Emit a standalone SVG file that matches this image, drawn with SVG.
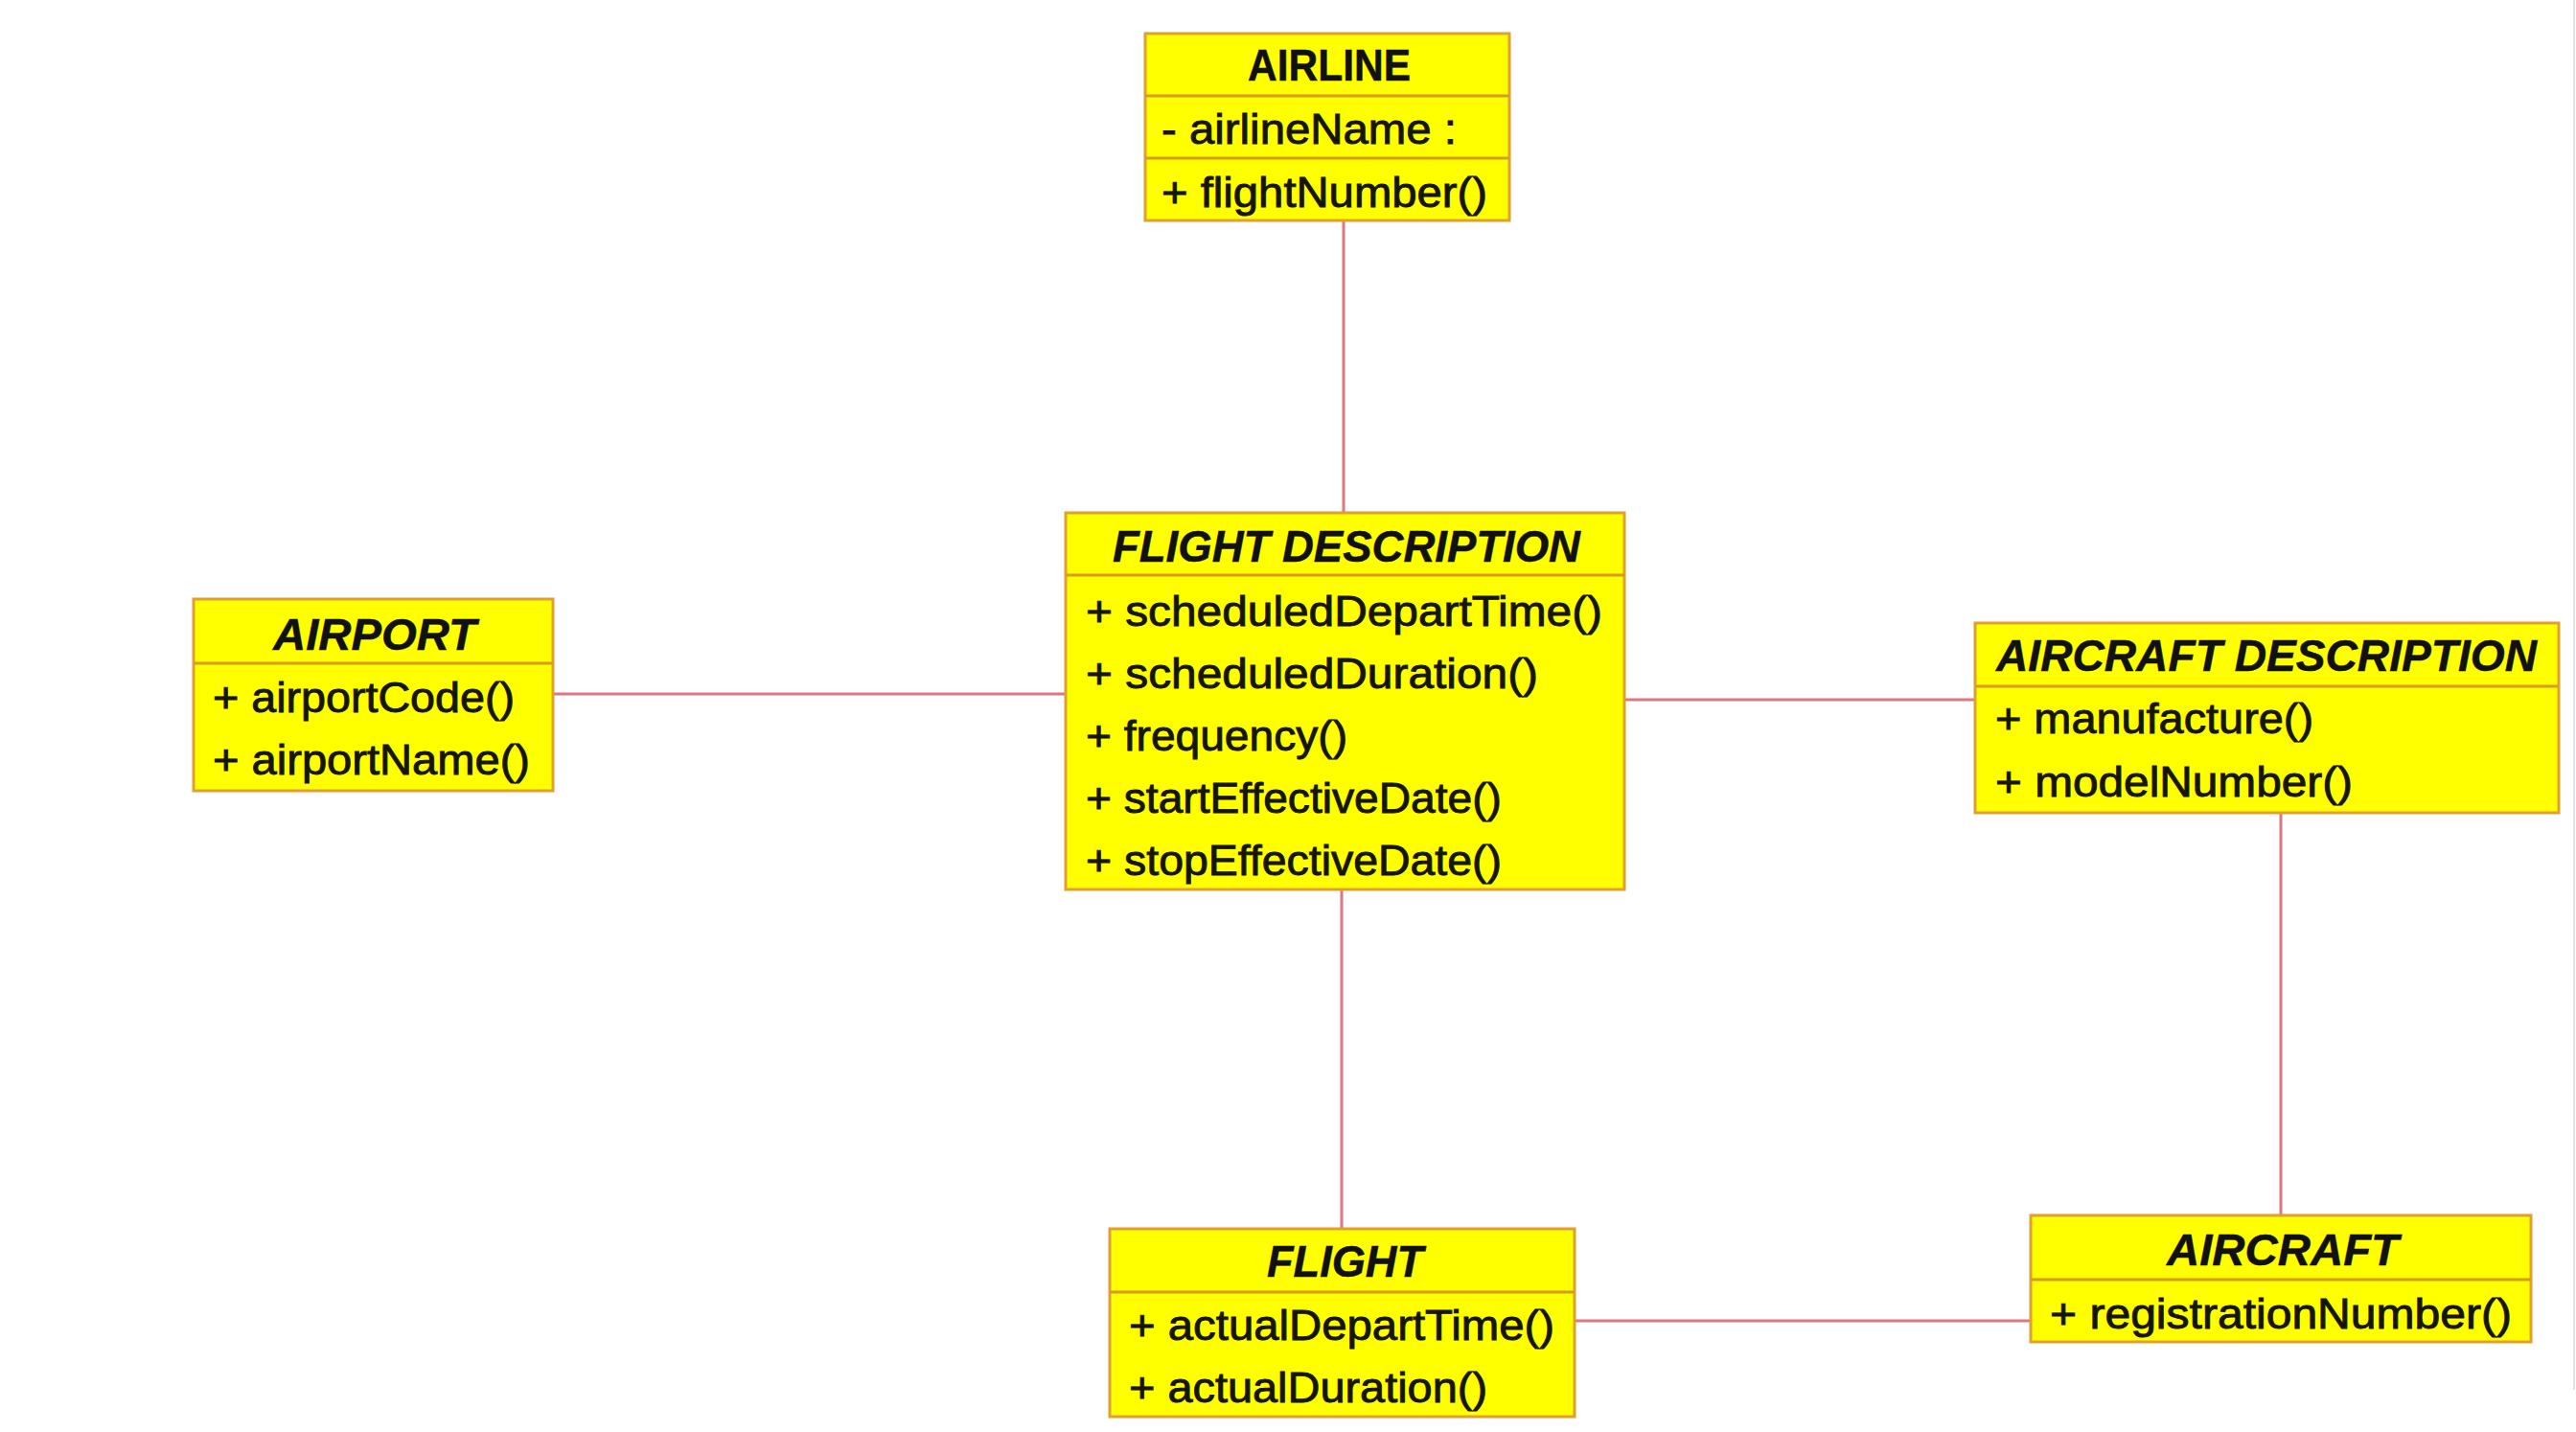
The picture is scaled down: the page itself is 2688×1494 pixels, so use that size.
<svg xmlns="http://www.w3.org/2000/svg" width="2688" height="1494" viewBox="0 0 2688 1494">
<style>
.box{fill:#ffff00;stroke:#e0a030;stroke-width:3}
.div{stroke:#d99a20;stroke-width:3}
.title{font-family:"Liberation Sans",Arial,sans-serif;font-size:46px;font-weight:bold;font-style:italic;fill:#111;stroke:#111;stroke-width:0.5}
.plain{font-style:normal}
.row{font-family:"Liberation Sans",Arial,sans-serif;font-size:44px;fill:#151500;stroke:#151500;stroke-width:0.9}
.conn{stroke:#dc7880;stroke-width:3;fill:none}
</style>
<rect x="0" y="0" width="2688" height="1494" fill="#ffffff"/>
<line x1="2686" y1="0" x2="2686" y2="1450" stroke="#e2e2e2" stroke-width="2"/>
<g id="connectors">
<line class="conn" x1="1402" y1="230" x2="1402" y2="535"/>
<line class="conn" x1="577" y1="724" x2="1112" y2="724"/>
<line class="conn" x1="1695" y1="730" x2="2061" y2="730"/>
<line class="conn" x1="1400" y1="928" x2="1400" y2="1282"/>
<line class="conn" x1="2380" y1="848" x2="2380" y2="1268"/>
<line class="conn" x1="1643" y1="1378" x2="2119" y2="1378"/>
</g>
<g id="airline">
<rect class="box" x="1195" y="35" width="380" height="195"/>
<line class="div" x1="1195" y1="100" x2="1575" y2="100"/>
<line class="div" x1="1195" y1="165" x2="1575" y2="165"/>
<text class="title plain" x="1302" y="84" textLength="170" lengthAdjust="spacingAndGlyphs">AIRLINE</text>
<text class="row" x="1212" y="150" textLength="308" lengthAdjust="spacingAndGlyphs">- airlineName :</text>
<text class="row" x="1212" y="216" textLength="340" lengthAdjust="spacingAndGlyphs">+ flightNumber()</text>
</g>
<g id="flight-description">
<rect class="box" x="1112" y="535" width="583" height="393"/>
<line class="div" x1="1112" y1="600" x2="1695" y2="600"/>
<text class="title" x="1161" y="586" textLength="488" lengthAdjust="spacingAndGlyphs">FLIGHT DESCRIPTION</text>
<text class="row" x="1133" y="653" textLength="539" lengthAdjust="spacingAndGlyphs">+ scheduledDepartTime()</text>
<text class="row" x="1133" y="718" textLength="472" lengthAdjust="spacingAndGlyphs">+ scheduledDuration()</text>
<text class="row" x="1133" y="783" textLength="273" lengthAdjust="spacingAndGlyphs">+ frequency()</text>
<text class="row" x="1133" y="848" textLength="434" lengthAdjust="spacingAndGlyphs">+ startEffectiveDate()</text>
<text class="row" x="1133" y="913" textLength="434" lengthAdjust="spacingAndGlyphs">+ stopEffectiveDate()</text>
</g>
<g id="airport">
<rect class="box" x="202" y="625" width="375" height="200"/>
<line class="div" x1="202" y1="692" x2="577" y2="692"/>
<text class="title" x="285" y="678" textLength="212" lengthAdjust="spacingAndGlyphs">AIRPORT</text>
<text class="row" x="222" y="743" textLength="315" lengthAdjust="spacingAndGlyphs">+ airportCode()</text>
<text class="row" x="222" y="808" textLength="331" lengthAdjust="spacingAndGlyphs">+ airportName()</text>
</g>
<g id="aircraft-description">
<rect class="box" x="2061" y="650" width="609" height="198"/>
<line class="div" x1="2061" y1="716" x2="2670" y2="716"/>
<text class="title" x="2083" y="700" textLength="564" lengthAdjust="spacingAndGlyphs">AIRCRAFT DESCRIPTION</text>
<text class="row" x="2082" y="765" textLength="332" lengthAdjust="spacingAndGlyphs">+ manufacture()</text>
<text class="row" x="2082" y="831" textLength="373" lengthAdjust="spacingAndGlyphs">+ modelNumber()</text>
</g>
<g id="flight">
<rect class="box" x="1158" y="1282" width="485" height="196"/>
<line class="div" x1="1158" y1="1348" x2="1643" y2="1348"/>
<text class="title" x="1322" y="1332" textLength="163" lengthAdjust="spacingAndGlyphs">FLIGHT</text>
<text class="row" x="1178" y="1398" textLength="444" lengthAdjust="spacingAndGlyphs">+ actualDepartTime()</text>
<text class="row" x="1178" y="1463" textLength="374" lengthAdjust="spacingAndGlyphs">+ actualDuration()</text>
</g>
<g id="aircraft">
<rect class="box" x="2119" y="1268" width="522" height="132"/>
<line class="div" x1="2119" y1="1335" x2="2641" y2="1335"/>
<text class="title" x="2261" y="1320" textLength="242" lengthAdjust="spacingAndGlyphs">AIRCRAFT</text>
<text class="row" x="2139" y="1386" textLength="482" lengthAdjust="spacingAndGlyphs">+ registrationNumber()</text>
</g>
</svg>
